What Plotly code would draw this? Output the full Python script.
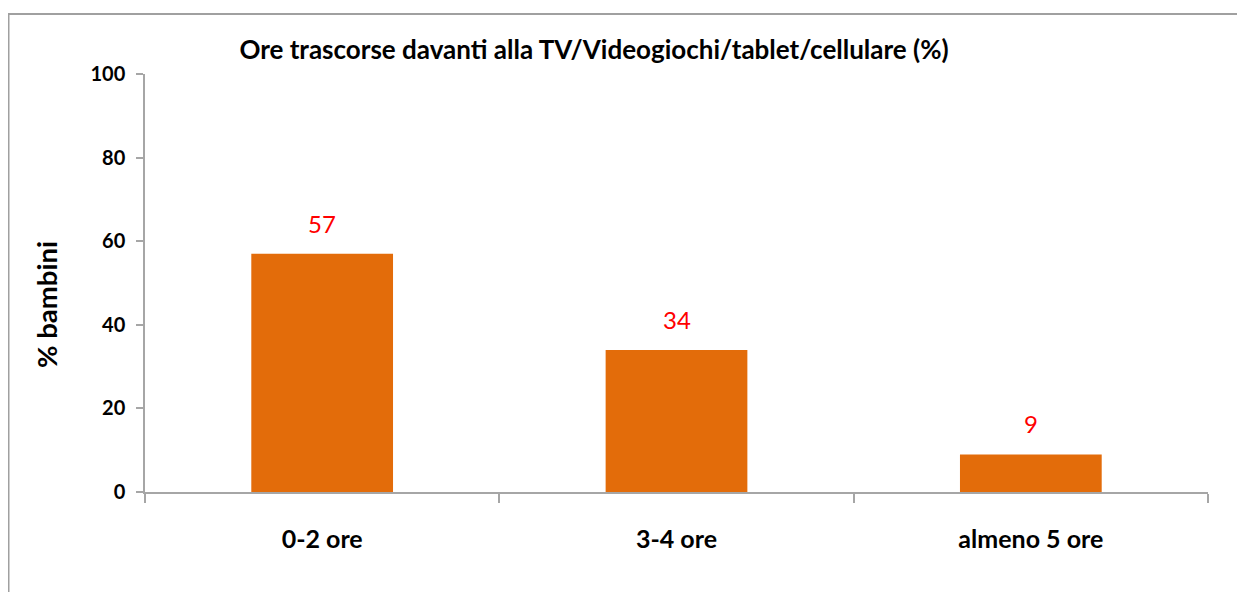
import plotly.graph_objects as go

categories = ["0-2 ore", "3-4 ore", "almeno 5 ore"]
values = [57, 34, 9]
value_labels = ["57", "34", "9"]
y_ticks = [0, 20, 40, 60, 80, 100]

FONT = "Lato"
BAR = "#E36C0A"
AXIS = "#A6A6A6"

# page body has an 8px offset; figure sized to fit the 1245x592 window
W, H = 1237, 584
L, T = 137, 66
PR, PB = 1200, 484  # plot right / bottom in figure px
pw, ph = PR - L, PB - T

fig = go.Figure()
fig.add_trace(go.Bar(x=categories, y=values, marker=dict(color=BAR, line=dict(width=0)),
                     width=0.4, hoverinfo="x+y"))

for c, v, t in zip(categories, values, value_labels):
    fig.add_annotation(x=c, y=v, text=t, showarrow=False, yanchor="bottom", yshift=14,
                       font=dict(family=FONT, size=24, color="#FF0000"))

# y-axis title (placed as in the reference, slightly below the axis centre)
fig.add_annotation(text="% bambini", xref="paper", yref="paper",
                   x=(46 - 8 - L) / pw, y=(PB - (305 - 8)) / ph,
                   xanchor="center", yanchor="middle", textangle=-90, showarrow=False,
                   font=dict(family=FONT, size=27.5, color="black", weight="bold"))

fig.update_layout(
    width=W, height=H,
    margin=dict(l=L, r=W - PR, t=T, b=H - PB, autoexpand=False),
    plot_bgcolor="white", paper_bgcolor="white",
    showlegend=False,
    title=dict(text="Ore trascorse davanti alla TV/Videogiochi/tablet/cellulare (%)",
               x=(594 - 8) / W, xanchor="center", xref="container",
               y=1 - (50 - 8) / H, yanchor="middle", yref="container",
               font=dict(family=FONT, size=26, color="black", weight="bold")),
    xaxis=dict(showline=True, linecolor=AXIS, linewidth=1.5, ticks="outside",
               tickson="boundaries", ticklen=9, tickcolor=AXIS, tickwidth=1.5,
               showgrid=False, ticklabelstandoff=24,
               tickfont=dict(family=FONT, size=25, color="black", weight="bold")),
    yaxis=dict(range=[0, 100], tickvals=y_ticks, showline=True, linecolor=AXIS, linewidth=1.5,
               ticks="outside", ticklen=7, tickcolor=AXIS, tickwidth=1.5, showgrid=False,
               zeroline=False, ticklabelstandoff=7,
               tickfont=dict(family=FONT, size=20, color="black", weight="bold")),
)

fig.add_shape(type="rect", xref="paper", yref="paper",
              x0=(0.5 - L) / pw, x1=(1235 - L) / pw, y0=-0.5, y1=(PB - 6) / ph,
              line=dict(color="#A0A0A0", width=2), layer="below")

fig.write_html("out.html")
